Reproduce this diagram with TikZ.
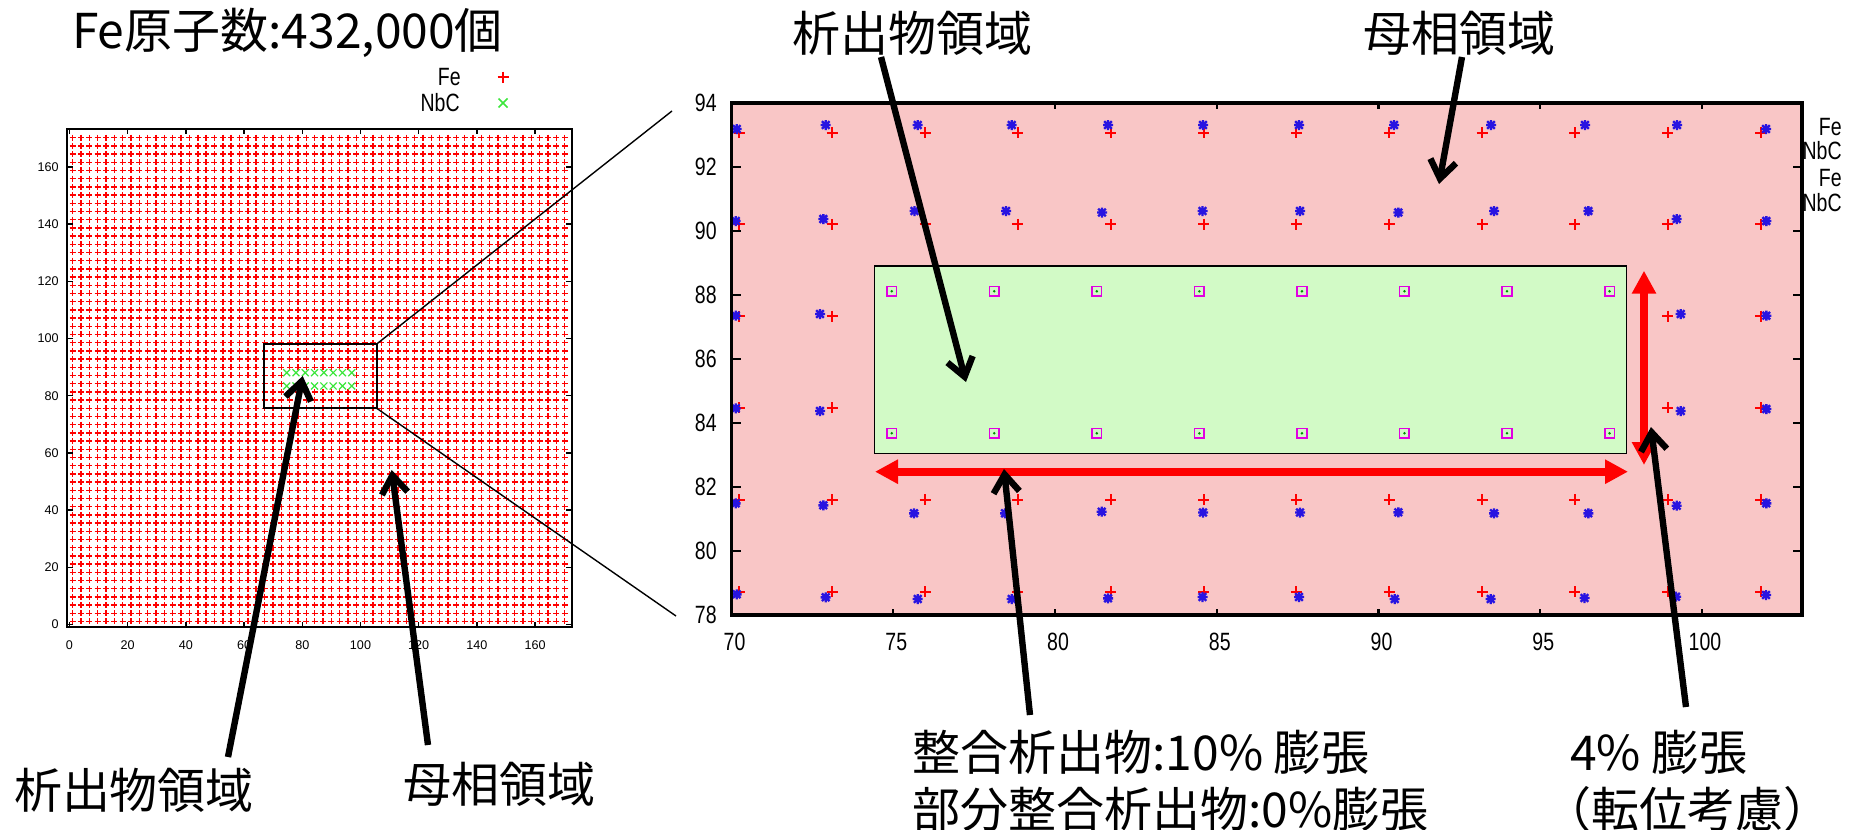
\documentclass[tikz,border=0pt]{standalone}
\usepackage{fontspec}
\setmainfont{Noto Sans CJK JP}
\newfontfamily\gpfont[FakeStretch=0.78]{Liberation Sans}
\newfontfamily\gpsmall{Liberation Sans}
\usetikzlibrary{arrows.meta}
\definecolor{nbgreen}{RGB}{60,230,60}
\definecolor{fepink}{RGB}{249,198,198}
\definecolor{nbcfill}{RGB}{210,250,198}
\definecolor{relaxblue}{RGB}{40,20,225}
\definecolor{nbmagenta}{RGB}{225,0,225}
\tikzset{
  bigtext/.style={font=\fontsize{24}{28.5}\selectfont, inner sep=0pt},
  ticklab/.style={font=\gpsmall\fontsize{6.3}{7}\selectfont, inner sep=1pt},
  gplab/.style={font=\gpfont\fontsize{12.5}{14}\selectfont, inner sep=0pt},
  fecross/.style={red, line width=0.7pt},
  nbcross/.style={nbgreen, line width=0.6pt},
  fesite/.style={red, line width=1pt},
  relaxsite/.style={relaxblue, line width=1.2pt},
  nbsite/.style={nbmagenta, line width=0.8pt, fill=nbcfill},
  pointer/.style={line width=3.2pt, -{Straight Barb[length=9pt, width=13pt]}},
  expandarrow/.style={red, line width=4pt, {Triangle[length=11.5pt, width=11.5pt]}-{Triangle[length=11.5pt, width=11.5pt]}},
}
\begin{document}
\begin{tikzpicture}[x=0.5pt, y=-0.5pt]
    \useasboundingbox (0,0) rectangle (1854,830);

    % Overview of the whole cell
    \node[bigtext] (title) at (287.5,33) {Fe原子数:432,000個};
    \node[gplab, anchor=east] (legfe) at (461,77) {Fe};
    \node[gplab, anchor=east] (legnbc) at (460,103) {NbC};
    \draw[red, line width=0.8pt] (503,77) +(-5.5,0) -- +(5.5,0) +(0,-5.5) -- +(0,5.5);
    \draw[nbcross, line width=0.8pt] (503,103) +(-4.5,-4.5) -- +(4.5,4.5) +(-4.5,4.5) -- +(4.5,-4.5);

    \draw[fecross] \foreach \i in {0,...,59}{ \foreach \j in {0,...,59}{
        (72.7+8.34*\i,621.4-8.2*\j) +(-3,0) -- +(3,0) +(0,-3) -- +(0,3) } };
    \fill[white] (285,371) rectangle (353,388);
    \draw[nbcross] \foreach \k in {0,...,7}{ \foreach \yy in {372.7,386}{
        (286.7+9.29*\k,\yy) +(-3.5,-3.5) -- +(3.5,3.5) +(-3.5,3.5) -- +(3.5,-3.5) } };

    \draw[line width=1pt] (67,129) rectangle (572,627);
    \foreach \lab [count=\k from 0] in {0,20,...,160}{
        \draw[line width=0.7pt] (69.5+58.2*\k,627) -- ++(0,-5) (69.5+58.2*\k,129) -- ++(0,5);
        \draw[line width=0.7pt] (67,624.5-57.2*\k) -- ++(6,0) (572,624.5-57.2*\k) -- ++(-6,0);
        \node[ticklab, anchor=east] (ly\k) at (61,624.5-57.2*\k) {\lab};
        \node[ticklab] (lx\k) at (69.5+58.2*\k,645) {\lab};
    }

    % Zoom window
    \node[draw, line width=1pt, inner sep=0pt, outer sep=0pt, minimum width=56.2pt,
        minimum height=32.15pt, anchor=north west] (zoombox) at (264.3,344) {};
    \coordinate (zoomtop) at (672,111);
    \coordinate (zoombot) at (676,616);
    \draw[line width=0.7pt] (zoombox.north east) -- (zoomtop);
    \draw[line width=0.7pt] (zoombox.south east) -- (zoombot);

    % Enlarged region
    \fill[fepink] (731.5,103) rectangle (1802,615);
    \draw[fesite] \foreach \i in {0,...,11}{ \foreach \r in {0,...,5}{
        (739.3+92.85*\i,132.7+91.76*\r) +(-5.5,0) -- +(5.5,0) +(0,-5.5) -- +(0,5.5) } };
    \draw[relaxsite] \foreach \x/\y in {736.7/129, 825.7/125, 917.7/125, 1011.7/125, 1108/125, 1203/125,
        1299/125, 1394/125, 1491/125, 1585/125, 1677/125, 1766/129,
        735.7/221, 823.3/219, 914.5/211, 1006/211, 1102/212.5, 1202.5/211,
        1300/211, 1398.3/212.5, 1494/211, 1588.3/211, 1676.7/219, 1766.3/221,
        735.7/315.7, 820/314, 1680.7/314, 1766.3/315.7,
        735.7/408.3, 820/411, 1680.7/411, 1766.3/409,
        735.7/503.3, 823.3/505.3, 914/513.3, 1005/513.3, 1101.7/511.7, 1203/512.5,
        1300/512.5, 1398.3/512.3, 1494/513.3, 1588.3/513.3, 1676.7/505.7, 1766.3/503.3,
        736.7/594.3, 825.7/597.3, 917.7/599, 1011.7/599, 1108/598.3, 1202.5/597,
        1299/597, 1394.7/599, 1490.7/599, 1584.5/598, 1676/596.7, 1766/595}{
        (\x,\y) +(-5,0) -- +(5,0) +(0,-5) -- +(0,5) +(-3.8,-3.8) -- +(3.8,3.8) +(-3.8,3.8) -- +(3.8,-3.8) };

    \node[draw, fill=nbcfill, line width=0.65pt, inner sep=0pt, outer sep=0pt, minimum width=376pt,
        minimum height=93.65pt, anchor=north west] (precip) at (874.3,266) {};
    \draw[nbsite] \foreach \k in {0,...,7}{ \foreach \yy in {291.3,433.3}{
        (891.7+102.55*\k,\yy) +(-4.8,-4.8) rectangle +(4.8,4.8) } };
    \fill[green!55!black] \foreach \k in {0,...,7}{ \foreach \yy in {291.3,433.3}{
        (891.7+102.55*\k,\yy) circle[radius=0.7pt] } };

    \draw[line width=1.6pt] (731.5,103) rectangle (1802,615);
    \foreach \lab [count=\k from 0] in {94,92,...,78}{
        \draw[line width=1.2pt] (731.5,103.3+63.96*\k) -- ++(9,0) (1802,103.3+63.96*\k) -- ++(-9,0);
        \node[gplab, anchor=east] (ry\k) at (717,103.3+63.96*\k) {\lab};
    }
    \foreach \lab [count=\k from 0] in {70,75,...,100}{
        \draw[line width=1.2pt] (731.5+161.75*\k,615) -- ++(0,-6) (731.5+161.75*\k,103) -- ++(0,6);
        \node[gplab] (rx\k) at (734.5+161.75*\k,642) {\lab};
    }
    \node[gplab, anchor=east] (rlegfe) at (1842,127) {Fe};
    \node[gplab, anchor=east] (rlegnbc) at (1842,151) {NbC};
    \node[gplab, anchor=east] (rlegfe2) at (1842,178) {Fe};
    \node[gplab, anchor=east] (rlegnbc2) at (1842,203) {NbC};

    % Expansion arrows
    \coordinate (wideleft) at (875,471.7);
    \coordinate (wideright) at (1628,471.7);
    \coordinate (talltop) at (1644,270.7);
    \coordinate (tallbot) at (1644,465);
    \draw[expandarrow] (wideleft) -- (wideright);
    \draw[expandarrow] (talltop) -- (tallbot);

    % Labels
    \node[bigtext] (pptlabel) at (912,33) {析出物領域};
    \node[bigtext] (matlabel) at (1459,33) {母相領域};
    \node[bigtext] (pptlabel2) at (134,790) {析出物領域};
    \node[bigtext] (matlabel2) at (499,784) {母相領域};
    \node[bigtext, align=left, anchor=west] (cohlabel) at (912,780.5)
        {整合析出物:10\% 膨張\\部分整合析出物:0\%膨張};
    \node[bigtext] (fourlabel) at (1659,752) {4\% 膨張};
    \node[bigtext] (dislabel) at (1687,809) {（転位考慮）};

    % Pointers
    \coordinate (ppttail) at (881,57);
    \coordinate (ppttip) at (966,382);
    \coordinate (mattail) at (1462,57);
    \coordinate (mattip) at (1439,184);
    \coordinate (cohtail) at (1030,715);
    \coordinate (cohtip) at (1004,469);
    \coordinate (fourtail) at (1686,707);
    \coordinate (fourtip) at (1651,427);
    \coordinate (ppttail2) at (228,757);
    \coordinate (ppttip2) at (302.7,376);
    \coordinate (mattail2) at (428,745);
    \coordinate (mattip2) at (391.7,470);
    \draw[pointer] (ppttail) -- (ppttip);
    \draw[pointer] (mattail) -- (mattip);
    \draw[pointer] (cohtail) -- (cohtip);
    \draw[pointer] (fourtail) -- (fourtip);
    \draw[pointer] (ppttail2) -- (ppttip2);
    \draw[pointer] (mattail2) -- (mattip2);
\end{tikzpicture}
\end{document}
